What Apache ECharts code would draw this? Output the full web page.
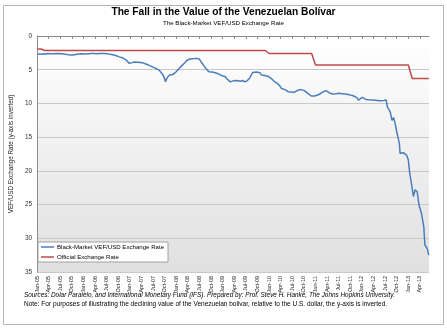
<!DOCTYPE html>
<html><head><meta charset="utf-8">
<script src="https://cdn.jsdelivr.net/npm/echarts@6/dist/echarts.min.js"></script>
<style>html,body{margin:0;padding:0;background:#fff}#c{width:447px;height:329px}</style>
</head><body><div id="c"></div>
<script>
// Quarterly tick labels
const quarterLabels = ['Jan-05','Apr-05','Jul-05','Oct-05','Jan-06','Apr-06','Jul-06','Oct-06','Jan-07','Apr-07','Jul-07','Oct-07','Jan-08','Apr-08','Jul-08','Oct-08','Jan-09','Apr-09','Jul-09','Oct-09','Jan-10','Apr-10','Jul-10','Oct-10','Jan-11','Apr-11','Jul-11','Oct-11','Jan-12','Apr-12','Jul-12','Oct-12','Jan-13','Apr-13'];
const yTicks = [0,5,10,15,20,25,30,35];

// Black-market VEF/USD rate (date, value)
const blackDates = ['2005-01-03','2005-01-20','2005-02-05','2005-02-20','2005-03-08','2005-03-25','2005-04-10','2005-04-25','2005-05-10','2005-05-25','2005-06-10','2005-06-25','2005-07-10','2005-07-25','2005-08-10','2005-08-25','2005-09-10','2005-09-25','2005-10-10','2005-10-25','2005-11-10','2005-11-25','2005-12-10','2005-12-25',
'2006-01-10','2006-01-25','2006-02-10','2006-02-25','2006-03-10','2006-03-25','2006-04-10','2006-04-25','2006-05-10','2006-05-25','2006-06-10','2006-06-25','2006-07-10','2006-07-25','2006-08-10','2006-08-25','2006-09-10','2006-09-25','2006-10-10','2006-10-25','2006-11-10','2006-11-25','2006-12-10','2006-12-25',
'2007-01-05','2007-01-20','2007-02-05','2007-02-19','2007-03-05','2007-03-20','2007-04-05','2007-04-20','2007-05-05','2007-05-20','2007-06-05','2007-06-20','2007-07-05','2007-07-22','2007-08-05','2007-08-20','2007-09-01','2007-09-15','2007-09-28','2007-10-07','2007-10-15','2007-10-25','2007-11-07','2007-11-20','2007-12-05','2007-12-16','2007-12-28',
'2008-01-10','2008-01-25','2008-02-08','2008-02-19','2008-03-05','2008-03-18','2008-03-28','2008-04-10','2008-04-25','2008-05-06','2008-05-20','2008-06-05','2008-06-18','2008-06-28','2008-07-10','2008-07-22','2008-08-05','2008-08-20','2008-09-01','2008-09-13','2008-09-28','2008-10-10','2008-10-25','2008-11-05','2008-11-18','2008-12-01','2008-12-15','2008-12-28',
'2009-01-10','2009-01-19','2009-02-01','2009-02-15','2009-02-28','2009-03-12','2009-03-25','2009-04-07','2009-04-20','2009-05-05','2009-05-20','2009-06-05','2009-06-22','2009-07-08','2009-07-29','2009-08-12','2009-08-25','2009-09-09','2009-09-22','2009-10-05','2009-10-20','2009-11-03','2009-11-18','2009-12-05','2009-12-25',
'2010-01-10','2010-01-25','2010-02-13','2010-02-28','2010-03-12','2010-03-25','2010-04-07','2010-04-20','2010-05-05','2010-05-15','2010-05-28','2010-06-10','2010-06-25','2010-07-05','2010-07-16','2010-07-30','2010-08-12','2010-08-25','2010-09-08','2010-09-22','2010-10-05','2010-10-18','2010-11-01','2010-11-15','2010-11-28','2010-12-10','2010-12-24',
'2011-01-08','2011-01-19','2011-02-02','2011-02-16','2011-03-05','2011-03-22','2011-04-05','2011-04-20','2011-05-03','2011-05-13','2011-05-28','2011-06-12','2011-07-01','2011-07-15','2011-07-30','2011-08-12','2011-08-26','2011-09-09','2011-09-22','2011-10-08','2011-10-20','2011-10-28','2011-11-12','2011-11-22','2011-12-04','2011-12-18',
'2012-01-04','2012-01-20','2012-02-02','2012-02-12','2012-02-25','2012-03-10','2012-04-01','2012-04-15','2012-05-01','2012-05-12','2012-05-25','2012-06-08','2012-06-22','2012-07-10','2012-07-19','2012-07-28','2012-08-10','2012-08-25','2012-09-07','2012-09-19','2012-10-01','2012-10-16','2012-10-22','2012-10-28','2012-11-10','2012-11-22','2012-12-05','2012-12-19',
'2013-01-01','2013-01-13','2013-01-28','2013-02-10','2013-02-22','2013-03-10','2013-03-25','2013-04-13','2013-05-01','2013-05-10','2013-05-28','2013-06-10'];
const blackValues = [2.72,2.65,2.70,2.62,2.66,2.60,2.63,2.58,2.62,2.57,2.60,2.65,2.62,2.68,2.72,2.66,2.80,2.86,2.82,2.76,2.72,2.68,2.65,2.70,
2.66,2.62,2.65,2.60,2.63,2.60,2.62,2.58,2.60,2.56,2.58,2.62,2.65,2.70,2.75,2.82,2.90,2.98,3.10,3.25,3.30,3.45,3.70,4.05,
4.15,3.95,3.85,3.78,3.90,3.85,3.95,4.05,4.15,4.25,4.40,4.55,4.65,4.80,4.95,5.10,5.30,5.70,6.20,6.80,6.40,6.10,5.80,5.90,5.70,5.50,5.35,
5.10,4.80,4.50,4.30,4.00,3.75,3.56,3.45,3.38,3.30,3.35,3.32,3.38,3.40,3.65,4.05,4.40,4.80,5.00,5.30,5.10,5.35,5.20,5.45,5.50,5.65,5.80,5.90,
5.95,6.00,6.30,6.55,6.80,6.55,6.65,6.50,6.60,6.55,6.70,6.60,6.80,6.65,6.30,5.80,5.40,5.20,5.35,5.50,5.45,5.80,5.70,5.90,6.00,
6.15,6.40,6.80,6.95,7.20,7.40,7.80,7.70,7.95,8.10,8.25,8.15,8.30,8.20,8.35,8.15,8.05,8.00,7.95,7.86,8.10,8.30,8.50,8.70,8.90,9.10,8.90,
8.85,8.75,8.60,8.45,8.25,8.10,8.30,8.45,8.35,8.60,8.40,8.55,8.50,8.65,8.55,8.70,8.60,8.85,8.70,8.80,8.75,8.90,9.00,9.15,9.50,9.30,
9.10,9.30,9.40,9.60,9.45,9.55,9.50,9.40,9.55,9.45,9.60,9.50,9.55,9.50,10.50,10.80,11.20,12.50,12.10,13.00,14.20,15.40,15.90,17.40,17.20,17.30,17.50,17.70,
18.40,20.40,22.10,23.80,22.80,23.10,25.10,26.30,28.30,31.00,31.50,32.50];

// Official exchange rate (monthly)
const officialDates = ['2005-01-01','2005-02-01','2005-03-01','2009-12-01','2010-01-01','2010-12-01','2011-01-01','2013-01-01','2013-02-01','2013-06-10'];
const officialValues = [1.92,1.92,2.15,2.15,2.60,2.60,4.30,4.30,6.30,6.30];

function toMonthIndex(s){
  const [y,m,d] = s.split('-').map(Number);
  const dim = new Date(Date.UTC(y,m,0)).getUTCDate();
  return (y-2005)*12 + (m-1) + (d-1)/dim;
}
const blackData = blackDates.map((d,i)=>[toMonthIndex(d), blackValues[i]]);
const officialData = officialDates.map((d,i)=>[toMonthIndex(d), officialValues[i]]);

const FONT = '"Liberation Sans", Arial, sans-serif';
const chart = echarts.init(document.getElementById('c'), null, {renderer:'canvas'});
chart.setOption({
  animation:false,
  backgroundColor:'#fff',
  title:{
    text:'The Fall in the Value of the Venezuelan Bolívar',
    subtext:'The Black-Market VEF/USD Exchange Rate',
    left:'center', top:7, itemGap:3, padding:0,
    textStyle:{fontFamily:FONT, fontSize:10.2, fontWeight:'bold', color:'#000'},
    subtextStyle:{fontFamily:FONT, fontSize:6.2, color:'#000'}
  },
  grid:{left:33, right:18, top:36, bottom:57, show:true, borderWidth:0,
    backgroundColor:new echarts.graphic.LinearGradient(0,0,0,1,[{offset:0,color:'#ffffff'},{offset:1,color:'#e0e0e0'}])},
  legend:{
    orient:'vertical', left:38, top:242, padding:[2,4,2,3], itemGap:4,
    backgroundColor:'#fff', borderColor:'#a0a0a0', borderWidth:1,
    icon:'rect', itemWidth:13, itemHeight:1.5,
    textStyle:{fontFamily:FONT, fontSize:6.1, color:'#000', padding:[0,0,0,-2]},
    data:['Black-Market VEF/USD Exchange Rate','Official Exchange Rate']
  },
  xAxis:{
    type:'value', min:0, max:101.35, interval:3,
    axisLine:{lineStyle:{color:'#8c8c8c'}},
    axisTick:{show:true, length:3, lineStyle:{color:'#8c8c8c'}},
    splitLine:{show:false},
    axisLabel:{rotate:90, fontFamily:FONT, fontSize:5.5, color:'#222', margin:4, showMaxLabel:false,
      formatter:v=>{const k=Math.round(v/3); return (Math.abs(v-k*3)<1e-6 && quarterLabels[k])?quarterLabels[k]:'';}}
  },
  yAxis:{
    type:'value', inverse:true, min:0, max:35, interval:5,
    name:'VEF/USD Exchange Rate (y-axis inverted)', nameLocation:'middle', nameGap:13,
    nameTextStyle:{fontFamily:FONT, fontSize:6.3, color:'#222'},
    axisLine:{show:true, lineStyle:{color:'#8c8c8c'}},
    axisTick:{show:false},
    splitLine:{lineStyle:{color:'#c8c8c8', width:1}},
    axisLabel:{fontFamily:FONT, fontSize:6.5, color:'#333', margin:5,
      formatter:v=>yTicks.includes(v)?String(v):''}
  },
  series:[
    {name:'Black-Market VEF/USD Exchange Rate', type:'line', data:blackData, showSymbol:false,
      lineStyle:{color:'#4a7ebb', width:1.5}, itemStyle:{color:'#4a7ebb'}},
    {name:'Official Exchange Rate', type:'line', data:officialData, showSymbol:false,
      lineStyle:{color:'#be4b48', width:1.5}, itemStyle:{color:'#be4b48'}}
  ],
  graphic:[
    {type:'rect', shape:{x:3.5, y:5.5, width:440, height:319}, style:{fill:'none', stroke:'#b5b5b5', lineWidth:1}, silent:true, z:-1},
    {type:'text', left:24, top:292, style:{text:'Sources: Dolar Paralelo, and International Monetary Fund (IFS). Prepared by: Prof. Steve H. Hanke, The Johns Hopkins University.', fontFamily:FONT, fontSize:6.4, fontStyle:'italic', fill:'#000'}},
    {type:'text', left:24, top:300.5, style:{text:'Note: For purposes of illustrating the declining value of the Venezuelan bolivar, relative to the U.S. dollar, the y-axis is inverted.', fontFamily:FONT, fontSize:6.5, fill:'#000'}}
  ]
});
</script></body></html>
